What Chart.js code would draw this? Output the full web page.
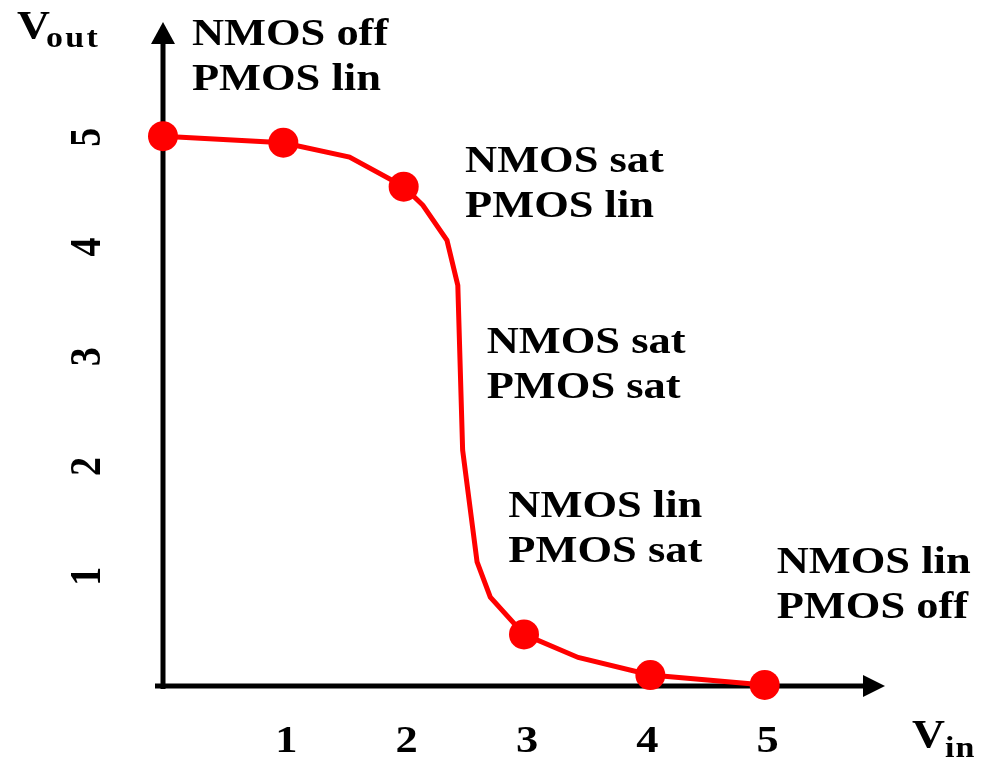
<!DOCTYPE html>
<html>
<head>
<meta charset="utf-8">
<script src="https://cdn.jsdelivr.net/npm/chart.js@4"></script>
<style>
  body { margin: 0; background: #fff; }
  #wrap { width: 981px; height: 761px; }
</style>
</head>
<body>
<div id="wrap"><canvas id="vtc" width="981" height="761"></canvas></div>
<script>
// inverter transfer curve
let vin  = [0, 1, 1.55, 2, 2.16, 2.36, 2.45, 2.49, 2.61, 2.72, 3, 3.45, 4.05, 5];
let vout = [5.01, 4.95, 4.82, 4.55, 4.38, 4.06, 3.65, 2.15, 1.13, 0.81, 0.47, 0.26, 0.1, 0.01];
let marked = [1, 1, 0, 1, 0, 0, 0, 0, 0, 0, 1, 0, 1, 1];
let xTicks = [1, 2, 3, 4, 5];
let yTicks = [1, 2, 3, 4, 5];
let regionText = [
  {x: 0.24, y: 5.84, lines: ["NMOS off", "PMOS lin"]},
  {x: 2.51, y: 4.68, lines: ["NMOS sat", "PMOS lin"]},
  {x: 2.69, y: 3.03, lines: ["NMOS sat", "PMOS sat"]},
  {x: 2.87, y: 1.54, lines: ["NMOS lin", "PMOS sat"]},
  {x: 5.1,  y: 1.03, lines: ["NMOS lin", "PMOS off"]}
];

let pts = vin.map((v, i) => ({x: v, y: vout[i]}));
let radii = marked.map(m => m ? 15 : 0);

const serif = '"Liberation Serif", "Times New Roman", serif';
const stretch = 1.17;

function wideText(ctx, txt, x, y, size, spacing) {
  ctx.save();
  ctx.translate(x, y);
  ctx.scale(stretch, 1);
  ctx.font = 'bold ' + size + 'px ' + serif;
  ctx.letterSpacing = (spacing || 0) + 'px';
  ctx.fillText(txt, 0, 0);
  ctx.restore();
}

const axesPlugin = {
  id: 'axesPlugin',
  beforeDatasetsDraw(chart) {
    let ctx = chart.ctx;
    let a = chart.chartArea;
    ctx.save();
    ctx.strokeStyle = '#000';
    ctx.fillStyle = '#000';
    ctx.lineWidth = 5;
    // y axis
    ctx.beginPath();
    ctx.moveTo(a.left, a.bottom + 3);
    ctx.lineTo(a.left, a.top + 18);
    ctx.stroke();
    ctx.beginPath();
    ctx.moveTo(a.left, a.top);
    ctx.lineTo(a.left - 12, a.top + 22);
    ctx.lineTo(a.left + 12, a.top + 22);
    ctx.closePath();
    ctx.fill();
    // x axis
    ctx.beginPath();
    ctx.moveTo(a.left - 8, a.bottom);
    ctx.lineTo(a.right - 18, a.bottom);
    ctx.stroke();
    ctx.beginPath();
    ctx.moveTo(a.right, a.bottom);
    ctx.lineTo(a.right - 22, a.bottom - 11);
    ctx.lineTo(a.right - 22, a.bottom + 11);
    ctx.closePath();
    ctx.fill();
    ctx.restore();
  },
  afterDraw(chart) {
    let ctx = chart.ctx;
    let xs = chart.scales.x, ys = chart.scales.y;
    ctx.save();
    ctx.fillStyle = '#000';
    ctx.textBaseline = 'alphabetic';
    // x tick labels
    ctx.textAlign = 'center';
    xTicks.forEach(t => {
      wideText(ctx, String(t), xs.getPixelForValue(t) + 3, 752, 38);
    });
    // y tick labels, turned on their side
    yTicks.forEach(t => {
      ctx.save();
      ctx.translate(100, ys.getPixelForValue(t));
      ctx.scale(stretch, 1);
      ctx.rotate(-Math.PI / 2);
      ctx.font = 'bold 38px ' + serif;
      ctx.textAlign = 'center';
      ctx.fillText(String(t), 0, 0);
      ctx.restore();
    });
    ctx.textAlign = 'left';
    // axis names
    wideText(ctx, 'V', 17, 38, 39);
    wideText(ctx, 'out', 46, 47, 29, 2);
    wideText(ctx, 'V', 912, 747, 39);
    wideText(ctx, 'in', 945, 757, 29, 1);
    // operating regions
    regionText.forEach(r => {
      let px = xs.getPixelForValue(r.x);
      let py = ys.getPixelForValue(r.y);
      r.lines.forEach((s, i) => wideText(ctx, s, px, py + i * 45, 38));
    });
    ctx.restore();
  }
};

new Chart(document.getElementById('vtc').getContext('2d'), {
  type: 'line',
  data: {
    datasets: [{
      data: pts,
      borderColor: '#ff0000',
      borderWidth: 5,
      backgroundColor: '#ff0000',
      pointRadius: radii,
      pointHoverRadius: radii,
      pointBorderWidth: 0,
      pointBackgroundColor: '#ff0000',
      tension: 0,
      clip: false
    }]
  },
  options: {
    responsive: false,
    animation: false,
    layout: {padding: {left: 163, right: 96, top: 22, bottom: 75}},
    plugins: {legend: {display: false}, tooltip: {enabled: false}},
    scales: {
      x: {type: 'linear', min: 0, max: 6, display: false},
      y: {type: 'linear', min: 0, max: 6.05, display: false}
    }
  },
  plugins: [axesPlugin]
});
</script>
</body>
</html>
